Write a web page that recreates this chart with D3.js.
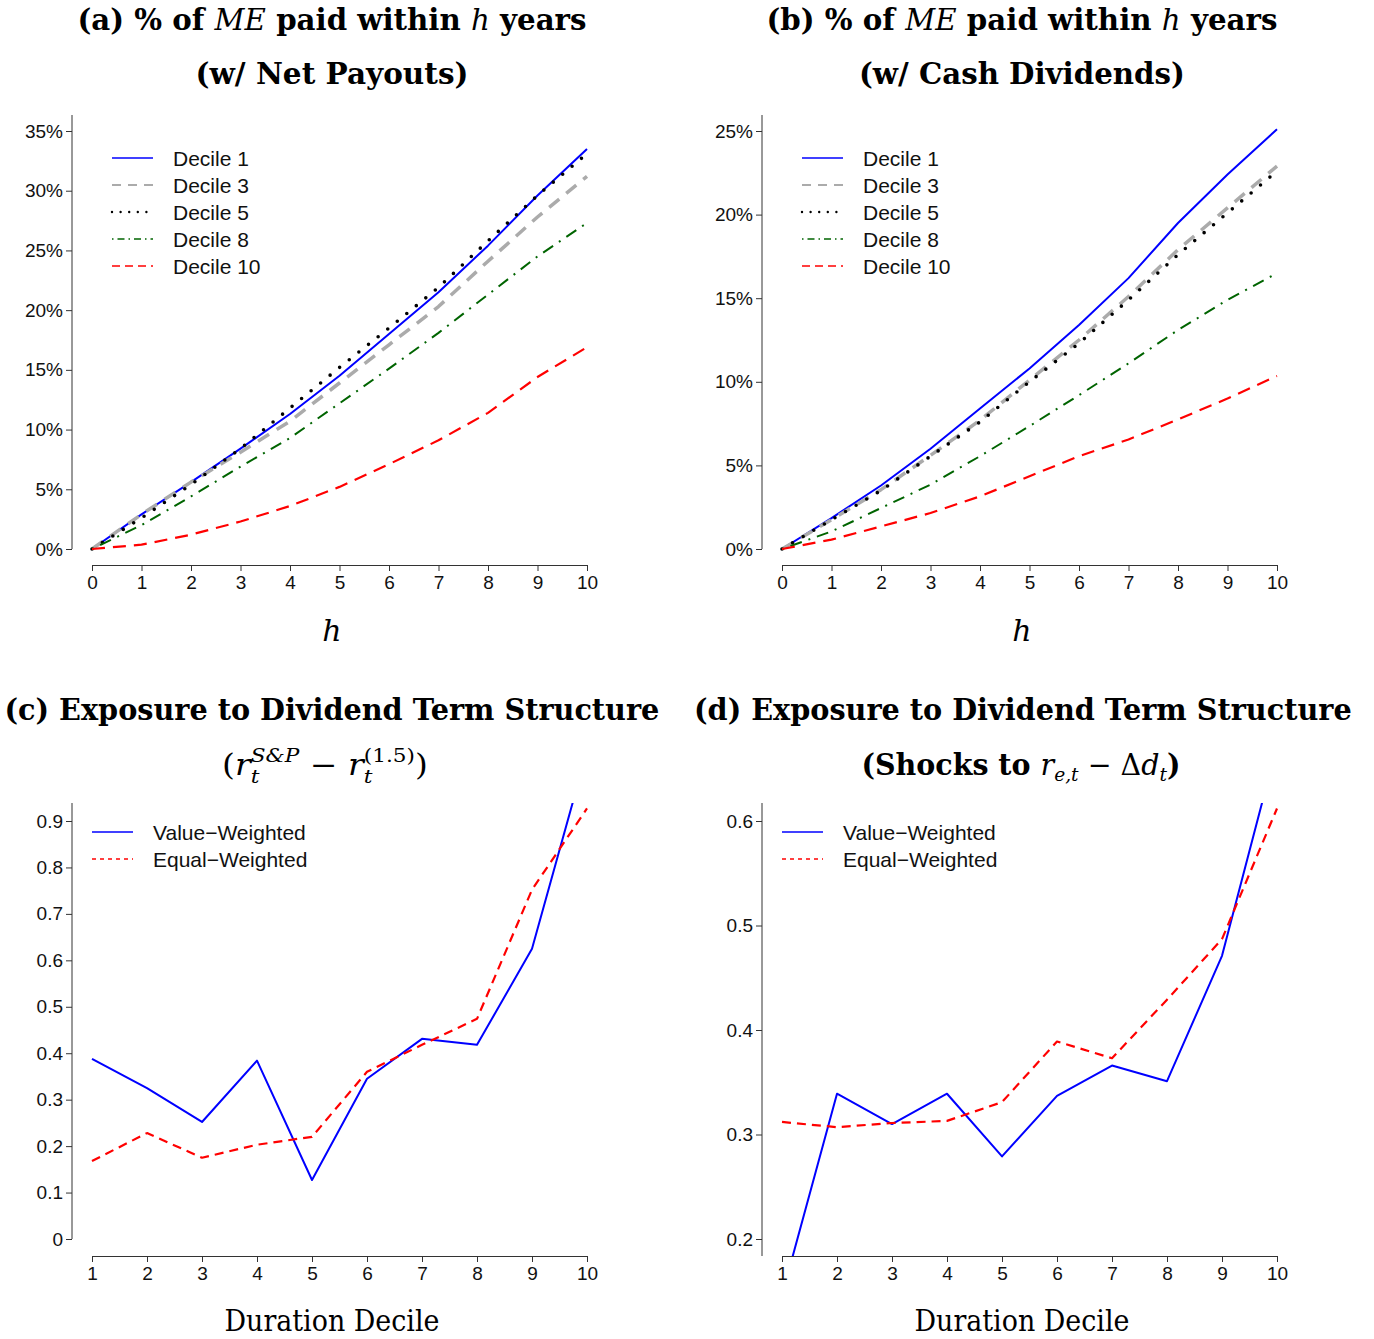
<!DOCTYPE html>
<html>
<head>
<meta charset="utf-8">
<script src="https://cdn.jsdelivr.net/npm/d3@7"></script>
<style>
  body { margin: 0; background: #fff; }
  text { white-space: pre; }
</style>
</head>
<body>
<svg id="chart" width="1374" height="1339"></svg>
<script>
// ---- data ----
const horizons = [0, 1, 2, 3, 4, 5, 6, 7, 8, 9, 10]
const deciles = [1, 2, 3, 4, 5, 6, 7, 8, 9, 10]
const legendDeciles = ['Decile 1', 'Decile 3', 'Decile 5', 'Decile 8', 'Decile 10']
const legendWeights = ['Value\u2212Weighted', 'Equal\u2212Weighted']

// (a) % of ME paid within h years, net payouts
const netD1  = [0, 2.9, 5.6, 8.4, 11.3, 14.5, 18.0, 21.5, 25.4, 29.6, 33.5]
const netD3  = [0, 2.9, 5.6, 8.1, 10.7, 13.9, 17.1, 20.3, 24.1, 27.8, 31.2]
const netD5  = [0, 2.6, 5.4, 8.4, 11.8, 15.2, 18.5, 21.9, 25.8, 29.6, 33.1]
const netD8  = [0, 2.0, 4.4, 6.9, 9.3, 12.2, 15.1, 18.1, 21.3, 24.5, 27.3]
const netD10 = [0, 0.36, 1.2, 2.3, 3.6, 5.2, 7.1, 9.1, 11.4, 14.4, 16.9]

// (b) % of ME paid within h years, cash dividends
const cashD1  = [0, 1.85, 3.8, 6.0, 8.4, 10.8, 13.4, 16.2, 19.5, 22.4, 25.1]
const cashD3  = [0, 1.75, 3.55, 5.6, 7.7, 10.1, 12.5, 15.1, 17.9, 20.4, 22.9]
const cashD5  = [0, 1.75, 3.5, 5.55, 7.6, 10.0, 12.3, 14.9, 17.6, 20.1, 22.6]
const cashD8  = [0, 1.05, 2.45, 3.85, 5.55, 7.35, 9.2, 11.1, 13.1, 14.9, 16.5]
const cashD10 = [0, 0.56, 1.35, 2.15, 3.15, 4.35, 5.55, 6.55, 7.75, 9.0, 10.35]

// (c) exposure to r^S&P - r^(1.5)
const spVW = [0.388, 0.325, 0.252, 0.384, 0.127, 0.345, 0.431, 0.418, 0.625, 1.05]
const spEW = [0.168, 0.228, 0.175, 0.203, 0.220, 0.360, 0.418, 0.474, 0.752, 0.927]

// (d) exposure to shocks to r_e - dd
const shVW = [0.146, 0.339, 0.310, 0.339, 0.279, 0.337, 0.366, 0.351, 0.471, 0.672]
const shEW = [0.312, 0.307, 0.311, 0.313, 0.331, 0.389, 0.373, 0.429, 0.487, 0.612]

const pctTicksA = [0, 5, 10, 15, 20, 25, 30, 35]
const pctTicksB = [0, 5, 10, 15, 20, 25]
const betaTicksC = [0, 0.1, 0.2, 0.3, 0.4, 0.5, 0.6, 0.7, 0.8, 0.9]
const betaTicksD = [0.2, 0.3, 0.4, 0.5, 0.6]

// ---- styles ----
const serif = '"DejaVu Serif", "Liberation Serif", serif'
const sans = '"Liberation Sans", Arial, Helvetica, sans-serif'
const sty = {
  blue:  { stroke: '#0000ff', w: 2, dash: null, lw: 1.3, ldash: null },
  gray:  { stroke: '#ababab', w: 3.5, dash: '13 9', lw: 2.2, ldash: '9 7' },
  dots:  { stroke: '#000', w: 3.6, dash: '0 12.3', cap: 'round', lw: 2.4, ldash: '0 8.6' },
  green: { stroke: '#006400', w: 2, dash: '2 7 12 7', lw: 1.3, ldash: '1.5 4 7 4' },
  red:   { stroke: '#ff0000', w: 2.2, dash: '13 8', lw: 1.3, ldash: '8 5' },
  redS:  { stroke: '#ff0000', w: 2.2, dash: '9 6', lw: 1.3, ldash: '4 4' }
}

const svg = d3.select('#chart')

// renders a line of mixed-style text, centred on cx, optionally squeezed to a width
function richText(cx, baseline, parts, width) {
  const g = svg.append('g')
  let x = 0, prevX = 0
  parts.forEach(p => {
    const startX = p.stack ? prevX : x
    const el = g.append('text')
      .attr('x', startX).attr('y', p.shift || 0)
      .style('font-family', serif)
      .style('font-size', (p.size || 29) + 'px')
      .style('font-weight', p.bold ? 'bold' : 'normal')
      .style('font-style', p.it ? 'italic' : 'normal')
      .text(p.t)
    const w = el.node().getComputedTextLength()
    if (p.stack) x = Math.max(x, startX + w)
    else { prevX = startX; x = startX + w }
  })
  const s = width ? width / x : 1
  g.attr('transform', `translate(${cx - s * x / 2},${baseline}) scale(${s},1)`)
}

function panel(cfg) {
  const x = d3.scaleLinear().domain(cfg.xDomain).range([cfg.x0, cfg.x0 + 495])
  const y = d3.scaleLinear().domain(cfg.yDomain).range(cfg.yRange)
  const ax = cfg.x0 - 20

  // y axis
  const ya = svg.append('g').attr('transform', `translate(${ax},0)`)
    .call(d3.axisLeft(y).tickValues(cfg.yTicks).tickSize(6).tickPadding(3).tickFormat(cfg.yFmt))
  ya.select('.domain').remove()
  ya.append('line').attr('x1', 0).attr('x2', 0).attr('y1', cfg.axisTop).attr('y2', cfg.axisBottom)
  ya.selectAll('line').attr('stroke', '#333')
  ya.selectAll('text').style('font-family', sans).style('font-size', '19px').attr('fill', '#111')

  // x axis
  const xa = svg.append('g').attr('transform', `translate(0,${cfg.xAxisY})`)
    .call(d3.axisBottom(x).tickValues(cfg.xTicks).tickSize(6).tickPadding(5).tickSizeOuter(0))
  xa.select('.domain').attr('stroke', '#333')
  xa.selectAll('line').attr('stroke', '#333')
  xa.selectAll('text').style('font-family', sans).style('font-size', '19px').attr('fill', '#111')

  const clipId = 'clip' + cfg.id
  svg.append('clipPath').attr('id', clipId).append('rect')
    .attr('x', ax).attr('y', cfg.axisTop).attr('width', 530).attr('height', cfg.xAxisY - cfg.axisTop)

  const line = d3.line().x((d, i) => x(cfg.xs[i])).y(d => y(d))
  const plot = svg.append('g').attr('clip-path', `url(#${clipId})`)
  cfg.series.forEach(s => {
    const st = sty[s.style]
    plot.append('path').datum(s.values)
      .attr('d', line)
      .attr('fill', 'none')
      .attr('stroke', st.stroke)
      .attr('stroke-width', st.w)
      .attr('stroke-dasharray', st.dash)
      .attr('stroke-linecap', st.cap || 'butt')
      .attr('stroke-linejoin', 'round')
  })

  // legend
  cfg.series.forEach((s, i) => {
    const st = sty[s.style]
    const ly = cfg.legendY + i * 27
    svg.append('line')
      .attr('x1', cfg.x0 + cfg.legendDx).attr('x2', cfg.x0 + cfg.legendDx + 41)
      .attr('y1', ly).attr('y2', ly)
      .attr('stroke', st.stroke).attr('stroke-width', st.lw)
      .attr('stroke-dasharray', st.ldash).attr('stroke-linecap', st.cap || 'butt')
    svg.append('text')
      .attr('x', cfg.x0 + cfg.legendDx + 61).attr('y', ly).attr('dy', '0.36em')
      .style('font-family', sans).style('font-size', '21px').attr('fill', '#111')
      .text(s.name)
  })
}

const pctFmt = d => d + '%'
const betaFmt = d => d === 0 ? '0' : d.toFixed(1)

panel({
  id: 'a', x0: 92, xDomain: [0, 10], xs: horizons, xTicks: horizons,
  yDomain: [0, 35], yRange: [549, 131], yTicks: pctTicksA, yFmt: pctFmt,
  axisTop: 115, axisBottom: 549, xAxisY: 565, legendY: 158, legendDx: 20,
  series: [
    { name: legendDeciles[0], values: netD1, style: 'blue' },
    { name: legendDeciles[1], values: netD3, style: 'gray' },
    { name: legendDeciles[2], values: netD5, style: 'dots' },
    { name: legendDeciles[3], values: netD8, style: 'green' },
    { name: legendDeciles[4], values: netD10, style: 'red' }
  ]
})

panel({
  id: 'b', x0: 782, xDomain: [0, 10], xs: horizons, xTicks: horizons,
  yDomain: [0, 25], yRange: [549, 131], yTicks: pctTicksB, yFmt: pctFmt,
  axisTop: 115, axisBottom: 549, xAxisY: 565, legendY: 158, legendDx: 20,
  series: [
    { name: legendDeciles[0], values: cashD1, style: 'blue' },
    { name: legendDeciles[1], values: cashD3, style: 'gray' },
    { name: legendDeciles[2], values: cashD5, style: 'dots' },
    { name: legendDeciles[3], values: cashD8, style: 'green' },
    { name: legendDeciles[4], values: cashD10, style: 'red' }
  ]
})

panel({
  id: 'c', x0: 92, xDomain: [1, 10], xs: deciles, xTicks: deciles,
  yDomain: [0, 0.9], yRange: [1239, 821], yTicks: betaTicksC, yFmt: betaFmt,
  axisTop: 803, axisBottom: 1239, xAxisY: 1256, legendY: 832, legendDx: 0,
  series: [
    { name: legendWeights[0], values: spVW, style: 'blue' },
    { name: legendWeights[1], values: spEW, style: 'redS' }
  ]
})

panel({
  id: 'd', x0: 782, xDomain: [1, 10], xs: deciles, xTicks: deciles,
  yDomain: [0.2, 0.6], yRange: [1239, 821], yTicks: betaTicksD, yFmt: betaFmt,
  axisTop: 803, axisBottom: 1256, xAxisY: 1256, legendY: 832, legendDx: 0,
  series: [
    { name: legendWeights[0], values: shVW, style: 'blue' },
    { name: legendWeights[1], values: shEW, style: 'redS' }
  ]
})

// ---- titles ----
const pctTitle = [
  { t: '(a) % of ', bold: true }, { t: 'ME', it: true }, { t: ' paid within ', bold: true },
  { t: 'h', it: true }, { t: ' years', bold: true }
]
richText(332, 30, pctTitle, 509)
richText(1022, 30, [{ t: '(b) % of ', bold: true }, ...pctTitle.slice(1)], 511)
richText(332, 84, [{ t: '(w/ Net Payouts)', bold: true }], 273)
richText(1022, 84, [{ t: '(w/ Cash Dividends)', bold: true }], 326)

richText(332, 720, [{ t: '(c) Exposure to Dividend Term Structure', bold: true }], 655)
richText(1023, 720, [{ t: '(d) Exposure to Dividend Term Structure', bold: true }], 658)

richText(325, 775, [
  { t: '(' }, { t: 'r', it: true },
  { t: 'S&P', it: true, size: 19, shift: -13 }, { t: 't', it: true, size: 19, shift: 8, stack: true },
  { t: ' \u2212 ' }, { t: 'r', it: true },
  { t: '(1.5)', size: 19, shift: -13 }, { t: 't', it: true, size: 19, shift: 8, stack: true },
  { t: ')' }
], 206)
richText(1021, 775, [
  { t: '(Shocks to ', bold: true }, { t: 'r', it: true },
  { t: 'e,t', it: true, size: 19, shift: 6 },
  { t: ' \u2212 \u0394' }, { t: 'd', it: true }, { t: 't', it: true, size: 19, shift: 6 },
  { t: ')', bold: true }
], 319)

// ---- axis titles ----
richText(332, 641, [{ t: 'h', it: true, size: 30 }])
richText(1022, 641, [{ t: 'h', it: true, size: 30 }])
richText(332, 1331, [{ t: 'Duration Decile', size: 29 }], 215)
richText(1022, 1331, [{ t: 'Duration Decile', size: 29 }], 215)
</script>
</body>
</html>
